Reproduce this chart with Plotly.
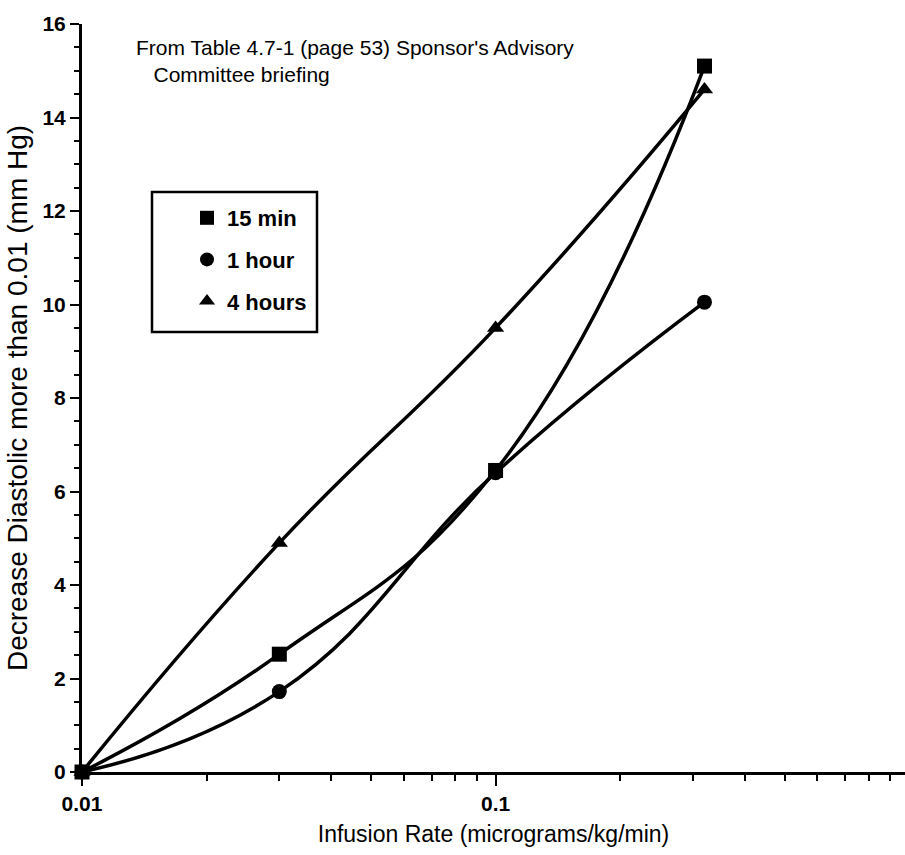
import plotly.graph_objects as go

# ---- data ----
infusion_rate = [0.01, 0.03, 0.1, 0.32]
series_names = ["15 min", "1 hour", "4 hours"]
decrease_15min = [0.0, 2.52, 6.45, 15.1]
decrease_1hour = [0.0, 1.72, 6.4, 10.05]
decrease_4hours = [0.0, 4.9, 9.5, 14.6]
series_values = [decrease_15min, decrease_1hour, decrease_4hours]
series_symbols = ["square", "circle", "triangle-up"]
series_marker_sizes = [15, 15, 15]

x_tick_values = [0.01, 0.1]
x_tick_labels = ["0.01", "0.1"]
x_minor_ticks = [0.02, 0.03, 0.04, 0.05, 0.06, 0.07, 0.08, 0.09,
                 0.2, 0.3, 0.4, 0.5, 0.6, 0.7, 0.8, 0.9]

note_text = "From Table 4.7-1 (page 53) Sponsor's Advisory<br>   Committee briefing"

FONT = "Liberation Sans"
W, H = 905, 855
ML, MR, MT, MB = 82, 0, 24, 83
PW = W - ML - MR
PH = H - MT - MB

fig = go.Figure()

for name, vals, sym, ms in zip(series_names, series_values, series_symbols, series_marker_sizes):
    fig.add_trace(go.Scatter(
        x=infusion_rate, y=vals, mode="lines+markers",
        line=dict(color="black", width=3.5, shape="spline", smoothing=1.3),
        marker=dict(symbol=sym, size=ms, color="black"),
        showlegend=False, cliponaxis=False,
    ))

# legend-only marker traces
for name, sym, ms in zip(series_names, series_symbols, series_marker_sizes):
    fig.add_trace(go.Scatter(
        x=[None], y=[None], mode="markers", name=name,
        marker=dict(symbol=sym, size=ms - 1, color="black"),
        legendgroup=name, showlegend=True,
    ))

def px_x(p):
    return (p - ML) / PW

def px_y(p):
    return (H - MB - p) / PH

# legend frame
fig.add_shape(type="rect", xref="paper", yref="paper",
              x0=px_x(152), x1=px_x(317), y0=px_y(332), y1=px_y(192),
              line=dict(color="black", width=2.5), fillcolor="rgba(0,0,0,0)")

fig.add_annotation(
    xref="paper", yref="paper", x=px_x(134), y=px_y(34),
    xanchor="left", yanchor="top", align="left", showarrow=False,
    text=note_text, font=dict(family=FONT, size=21, color="black"),
)

fig.update_layout(
    width=W, height=H,
    margin=dict(l=ML, r=MR, t=MT, b=MB, pad=0),
    paper_bgcolor="white", plot_bgcolor="white",
    font=dict(family=FONT, color="black"),
    showlegend=True,
    legend=dict(
        x=px_x(187), y=px_y(197), xanchor="left", yanchor="top",
        bgcolor="rgba(0,0,0,0)", borderwidth=0,
        font=dict(family=FONT, size=22, color="black", weight="bold"),
        traceorder="grouped", tracegroupgap=10,
    ),
    xaxis=dict(
        type="log", range=[-2, -0.01],
        showline=True, linewidth=3, linecolor="black",
        showgrid=False, zeroline=False,
        ticks="outside", ticklen=11, tickwidth=2, tickcolor="black",
        tickmode="array", tickvals=x_tick_values, ticktext=x_tick_labels,
        tickfont=dict(family=FONT, size=21, color="black", weight="bold"),
        minor=dict(ticks="outside", ticklen=6, tickwidth=2, tickcolor="black",
                   tickmode="array", tickvals=x_minor_ticks, showgrid=False),
        title=dict(text="Infusion Rate (micrograms/kg/min)", standoff=12,
                   font=dict(family=FONT, size=23, color="black")),
    ),
    yaxis=dict(
        range=[0, 16],
        showline=True, linewidth=3, linecolor="black",
        showgrid=False, zeroline=False,
        ticks="outside", ticklen=9, tickwidth=2, tickcolor="black",
        dtick=2, tick0=0,
        tickfont=dict(family=FONT, size=21, color="black", weight="bold"),
        minor=dict(ticks="outside", ticklen=5, tickwidth=2, tickcolor="black",
                   dtick=0.5, showgrid=False),
        title=dict(text="Decrease Diastolic more than 0.01 (mm Hg)", standoff=7,
                   font=dict(family=FONT, size=28, color="black")),
    ),
)

fig.write_html("out.html",
               config={"displayModeBar": False},
               post_script="document.body.style.margin='0';document.body.style.overflow='hidden';")
